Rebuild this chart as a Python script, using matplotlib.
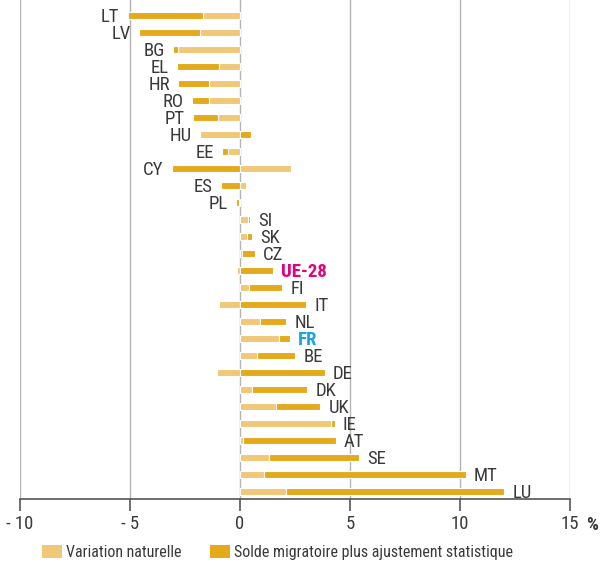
import matplotlib
matplotlib.use('Agg')
import matplotlib.pyplot as plt
from matplotlib.patches import Patch
import numpy as np

# condensed face first, fallback to DejaVu
plt.rcParams['font.family'] = ['Liberation Sans Narrow', 'Roboto Condensed', 'DejaVu Sans']

# data (% of population)
countries = ['LT', 'LV', 'BG', 'EL', 'HR', 'RO', 'PT', 'HU', 'EE', 'CY', 'ES', 'PL',
             'SI', 'SK', 'CZ', 'UE-28', 'FI', 'IT', 'NL', 'FR', 'BE', 'DE', 'DK', 'UK',
             'IE', 'AT', 'SE', 'MT', 'LU']
naturelle = [-1.7, -1.8, -2.8, -0.95, -1.4, -1.4, -1.0, -1.8, -0.55, 2.3, 0.25, -0.05,
             0.35, 0.3, 0.08, -0.15, 0.4, -0.95, 0.9, 1.75, 0.75, -1.05, 0.55, 1.65,
             4.15, 0.15, 1.3, 1.1, 2.1]
migratoire = [-3.4, -2.8, -0.25, -1.9, -1.4, -0.8, -1.15, 0.5, -0.25, -3.1, -0.85, -0.15,
              0.12, 0.25, 0.6, 1.5, 1.5, 3.0, 1.2, 0.5, 1.75, 3.85, 2.5, 2.0,
              0.15, 4.2, 4.1, 9.15, 9.9]
ticks = [-10, -5, 0, 5, 10, 15]
tick_labels = ['- 10', '- 5', '0', '5', '10', '15']

light = '#F0C878'
dark = '#E4AA1C'
txt = '#3a3a3a'
special = {'UE-28': '#E5007E', 'FR': '#1AA6E6'}
fs = 13.5

nat = np.array(naturelle)
mig = np.array(migratoire)
y = np.arange(len(countries))

fig = plt.figure(figsize=(6.01, 5.62), dpi=100)
ax = fig.add_axes([20 / 601, 1 - 499 / 562, 550 / 601, 499 / 562])

for xv in ticks:
    ax.axvline(xv, color='#b4b4b4', lw=1.0, zorder=0)

# diverging stack: natural variation from 0, migration continues on the same side
mig_left = np.where(np.sign(mig) == np.sign(nat), nat, 0)
ax.barh(y, nat, height=0.42, color=light, edgecolor='white', linewidth=0.8, zorder=2)
ax.barh(y, mig, left=mig_left, height=0.42, color=dark, edgecolor='white', linewidth=0.8, zorder=2)

for i, c in enumerate(countries):
    lo = min(0, nat[i], mig_left[i] + mig[i])
    hi = max(0, nat[i], mig_left[i] + mig[i])
    net = nat[i] + mig[i]
    col = special.get(c, txt)
    wt = 'bold' if c in special else 'normal'
    if net < 0:
        ax.annotate(c, (lo, i), xytext=(-6, -1), textcoords='offset points',
                    ha='right', va='center', fontsize=fs, color=col, fontweight=wt)
    else:
        ax.annotate(c, (hi, i), xytext=(6, -1), textcoords='offset points',
                    ha='left', va='center', fontsize=fs, color=col, fontweight=wt)

ax.set_xlim(-10, 15)
ax.set_ylim(len(countries) - 0.55, -0.9)
ax.set_yticks([])
ax.set_xticks(ticks)
ax.set_xticklabels(tick_labels, fontsize=fs, color=txt)
ax.tick_params(axis='x', length=8.5, width=1.2, color='#555555', pad=3)
for s in ['top', 'right', 'left']:
    ax.spines[s].set_visible(False)
ax.spines['bottom'].set_color('#555555')
ax.spines['bottom'].set_linewidth(1.2)

ax.annotate('%', (15, 0), xycoords=('data', 'axes fraction'), xytext=(16, -19),
            textcoords='offset points', ha='center', va='center',
            fontsize=fs, fontweight='bold', color=txt)

handles = [Patch(facecolor=light, edgecolor='none'), Patch(facecolor=dark, edgecolor='none')]
fig.legend(handles, ['Variation naturelle', 'Solde migratoire plus ajustement statistique'],
           loc='lower left', bbox_to_anchor=(42 / 601, 2 / 562), ncol=2, frameon=False,
           fontsize=11.5, handlelength=1.25, handleheight=0.95, handletextpad=0.25,
           columnspacing=1.8, labelcolor=txt, borderpad=0, borderaxespad=0)

fig.savefig('out.png', dpi=100)
